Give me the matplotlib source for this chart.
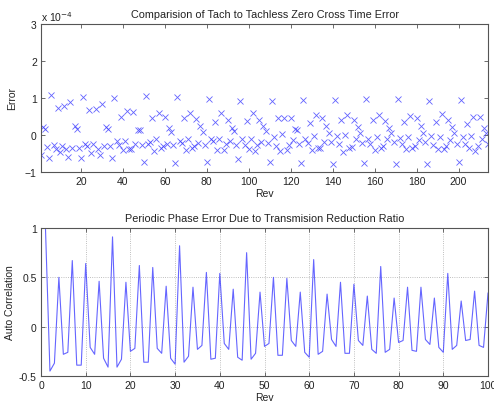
import numpy as np
import matplotlib
matplotlib.use("Agg")
import matplotlib.pyplot as plt

plt.rcParams['font.family'] = ['Liberation Sans', 'DejaVu Sans']

# ---- Top chart data: zero-cross time error (units of 1e-4), one point per rev
error_e4 = [
    -0.54, 0.22, 0.15, -0.32, -0.61, 1.07, -0.27, -0.39, 0.73, -0.46,
    -0.30, 0.78, -0.39, -0.59, 0.89, -0.34, 0.24, 0.17, -0.35, -0.62,
    1.03, -0.23, -0.30, 0.67, -0.48, -0.23, 0.71, -0.39, -0.55, 0.83,
    -0.30, 0.22, 0.15, -0.30, -0.63, 0.99, -0.16, -0.27, 0.50, -0.41,
    -0.16, 0.64, -0.39, -0.39, 0.63, -0.23, 0.14, 0.14, -0.27, -0.72,
    1.05, -0.23, -0.19, 0.45, -0.43, -0.10, 0.60, -0.34, -0.30, 0.50,
    -0.23, 0.20, 0.09, -0.27, -0.77, 1.03, -0.16, -0.21, 0.45, -0.41,
    -0.12, 0.59, -0.34, -0.30, 0.42, -0.21, 0.24, 0.08, -0.27, -0.73,
    0.98, -0.10, -0.16, 0.36, -0.41, -0.12, 0.60, -0.41, -0.23, 0.41,
    -0.16, 0.20, 0.11, -0.27, -0.66, 0.92, -0.10, -0.27, 0.38, -0.39,
    -0.10, 0.60, -0.43, -0.27, 0.41, -0.19, 0.24, 0.11, -0.21, -0.73,
    0.92, -0.05, -0.30, 0.47, -0.43, 0.02, 0.47, -0.41, -0.27, 0.47,
    -0.14, 0.15, 0.13, -0.23, -0.75, 0.95, -0.10, -0.21, 0.33, -0.41,
    -0.03, 0.53, -0.34, -0.34, 0.47, -0.19, 0.24, 0.06, -0.19, -0.79,
    0.94, -0.03, -0.23, 0.41, -0.45, -0.01, 0.53, -0.36, -0.32, 0.41,
    -0.12, 0.22, 0.06, -0.21, -0.77, 0.98, -0.10, -0.23, 0.41, -0.41,
    -0.05, 0.54, -0.34, -0.30, 0.38, -0.12, 0.20, 0.06, -0.18, -0.79,
    0.96, -0.07, -0.23, 0.36, -0.39, -0.05, 0.51, -0.36, -0.30, 0.45,
    -0.14, 0.23, 0.05, -0.18, -0.79, 0.92, -0.03, -0.27, 0.35, -0.39,
    -0.05, 0.56, -0.39, -0.30, 0.40, -0.14, 0.22, 0.06, -0.23, -0.72,
    0.94, -0.05, -0.23, 0.29, -0.34, -0.03, 0.50, -0.43, -0.30, 0.50,
    -0.12, 0.20, 0.06, -0.23,
]
rev_top = np.arange(1, len(error_e4) + 1)

# ---- Bottom chart data: autocorrelation per lag (rev index 1..100)
autocorr = [
    1.00, -0.45, -0.37, 0.50, -0.28, -0.26, 0.67, -0.39, -0.39, 0.64,
    -0.21, -0.28, 0.46, -0.32, -0.41, 0.91, -0.41, -0.33, 0.45, -0.25,
    -0.22, 0.62, -0.36, -0.36, 0.60, -0.22, -0.27, 0.41, -0.32, -0.38,
    0.82, -0.36, -0.30, 0.40, -0.23, -0.19, 0.55, -0.33, -0.32, 0.54,
    -0.17, -0.23, 0.38, -0.31, -0.34, 0.75, -0.33, -0.27, 0.35, -0.20,
    -0.17, 0.50, -0.29, -0.29, 0.49, -0.14, -0.20, 0.35, -0.26, -0.31,
    0.68, -0.28, -0.25, 0.33, -0.13, -0.20, 0.45, -0.27, -0.27, 0.43,
    -0.14, -0.19, 0.31, -0.23, -0.27, 0.61, -0.26, -0.23, 0.29, -0.16,
    -0.14, 0.40, -0.24, -0.25, 0.40, -0.13, -0.18, 0.29, -0.21, -0.26,
    0.54, -0.23, -0.19, 0.26, -0.14, -0.13, 0.36, -0.19, -0.21, 0.34,
]
rev_bot = np.arange(1, len(autocorr) + 1)

top_title = "Comparision of Tach to Tachless Zero Cross Time Error"
bot_title = "Periodic Phase Error Due to Transmision Reduction Ratio"
top_xticks = list(range(20, 201, 20))
top_yticks = [-1, 0, 1, 2, 3]
bot_xticks = list(range(0, 101, 10))
bot_yticks = [-0.5, 0, 0.5, 1]

W, H = 494, 406
fig = plt.figure(figsize=(W / 100, H / 100), dpi=100)
fs = 7.5
tfs = 7.8
frame_col = '#555555'
txt_col = '#222222'


def style(ax):
    for s in ax.spines.values():
        s.set_color(frame_col)
        s.set_linewidth(0.8)
    ax.tick_params(direction='in', top=True, right=True, length=3,
                   width=0.6, color=frame_col, labelsize=fs, pad=3,
                   labelcolor=txt_col)


ax1 = fig.add_axes([41 / W, 1 - 173 / H, 447 / W, 148 / H])
ax1.plot(rev_top, error_e4, linestyle='none', marker='x', markersize=3.8,
         markeredgewidth=0.6, color='#3a3aff', alpha=0.8)
ax1.set_xlim(1, len(error_e4))
ax1.set_ylim(-1, 3)
ax1.set_xticks(top_xticks)
ax1.set_yticks(top_yticks)
style(ax1)
ax1.set_title(top_title, fontsize=tfs, pad=5, color=txt_col)
ax1.set_xlabel("Rev", fontsize=fs, labelpad=1, color=txt_col)
ax1.set_ylabel("Error", fontsize=fs, labelpad=6, color=txt_col)
ax1.text(0.0, 1.01, "x 10$^{-4}$", transform=ax1.transAxes, fontsize=fs,
         ha='left', va='bottom', color=txt_col)

ax2 = fig.add_axes([41 / W, 1 - 377 / H, 447 / W, 148 / H])
ax2.plot(rev_bot, autocorr, color='#4a4aff', linewidth=0.8, alpha=0.85)
ax2.set_xlim(0, 100)
ax2.set_ylim(-0.5, 1)
ax2.set_xticks(bot_xticks)
ax2.set_yticks(bot_yticks)
ax2.set_yticklabels(['-0.5', '0', '0.5', '1'])
ax2.grid(True, linestyle=':', linewidth=0.6, color='#aaaaaa')
style(ax2)
ax2.set_title(bot_title, fontsize=tfs, pad=5, color=txt_col)
ax2.set_xlabel("Rev", fontsize=fs, labelpad=1, color=txt_col)
ax2.set_ylabel("Auto Correlation", fontsize=fs, labelpad=3, color=txt_col)

fig.savefig("out.png", dpi=100)
